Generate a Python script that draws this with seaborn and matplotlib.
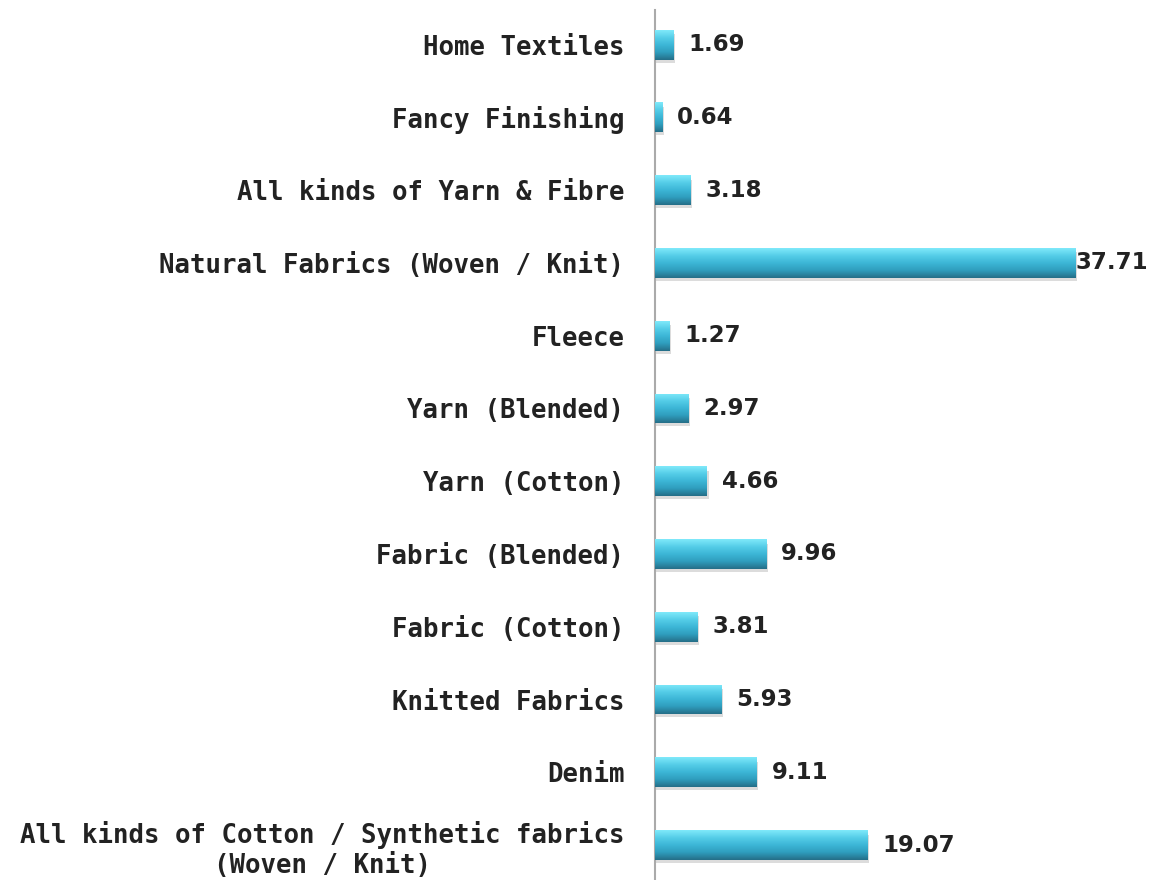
import numpy as np
import pandas as pd
import seaborn as sns
import matplotlib.pyplot as plt
from matplotlib.colors import LinearSegmentedColormap

categories = [
    "Home Textiles",
    "Fancy Finishing",
    "All kinds of Yarn & Fibre",
    "Natural Fabrics (Woven / Knit)",
    "Fleece",
    "Yarn (Blended)",
    "Yarn (Cotton)",
    "Fabric (Blended)",
    "Fabric (Cotton)",
    "Knitted Fabrics",
    "Denim",
    "All kinds of Cotton / Synthetic fabrics\n(Woven / Knit)",
]
values = [1.69, 0.64, 3.18, 37.71, 1.27, 2.97, 4.66, 9.96, 3.81, 5.93, 9.11, 19.07]
labels = ["1.69", "0.64", "3.18", "37.71", "1.27", "2.97", "4.66", "9.96", "3.81", "5.93", "9.11", "19.07"]

df = pd.DataFrame({"category": categories, "value": values})

sns.set_style("white")
fig = plt.figure(figsize=(11.49, 8.8), dpi=100)
ax = fig.add_axes([0.570, 0.0, 0.430, 0.989])

sns.barplot(data=df, y="category", x="value", color="#3bb5d6", width=0.41,
            orient="h", ax=ax, edgecolor="none")

# glossy gradient on each bar (light top, dark bottom)
cmap = LinearSegmentedColormap.from_list(
    "gloss", ["#7fe9fa", "#55cde8", "#3cb6d6", "#2f9dbd", "#256f88"])
grad = np.linspace(0, 1, 64).reshape(-1, 1)
for p in ax.patches:
    x0, y0 = p.get_x(), p.get_y()
    w, h = p.get_width(), p.get_height()
    # soft shadow
    ax.add_patch(plt.Rectangle((x0, y0 + h * 0.15), w + 0.15, h * 0.95,
                               color="#bbbbbb", alpha=0.5, zorder=1, lw=0))
    im = ax.imshow(grad, cmap=cmap, aspect="auto",
                   extent=(x0, x0 + w, y0 + h, y0), zorder=3)
    im.set_clip_path(p)
    p.set_zorder(2)

for i, (v, lab) in enumerate(zip(values, labels)):
    off = 0 if v > 30 else 15
    ax.annotate(lab, (v, i), xytext=(off, 0), textcoords="offset pixels",
                va="center", ha="left", fontsize=16.5, fontweight="bold",
                family="DejaVu Sans", color="#222222", zorder=5)

ax.set_xlim(0, 44.3)
ax.set_ylim(11.48, -0.48)
ax.set_xlabel("")
ax.set_ylabel("")
ax.set_xticks([])
ax.tick_params(axis="y", length=0, pad=22)
for t in ax.get_yticklabels():
    t.set_family("DejaVu Sans Mono")
    t.set_fontsize(18.5)
    t.set_fontweight("bold")
    t.set_color("#222222")
    t.set_multialignment("center")
for s in ["top", "right", "bottom"]:
    ax.spines[s].set_visible(False)
ax.spines["left"].set_color("#aaaaaa")
ax.spines["left"].set_linewidth(1.5)

fig.savefig("out.png", dpi=100)
